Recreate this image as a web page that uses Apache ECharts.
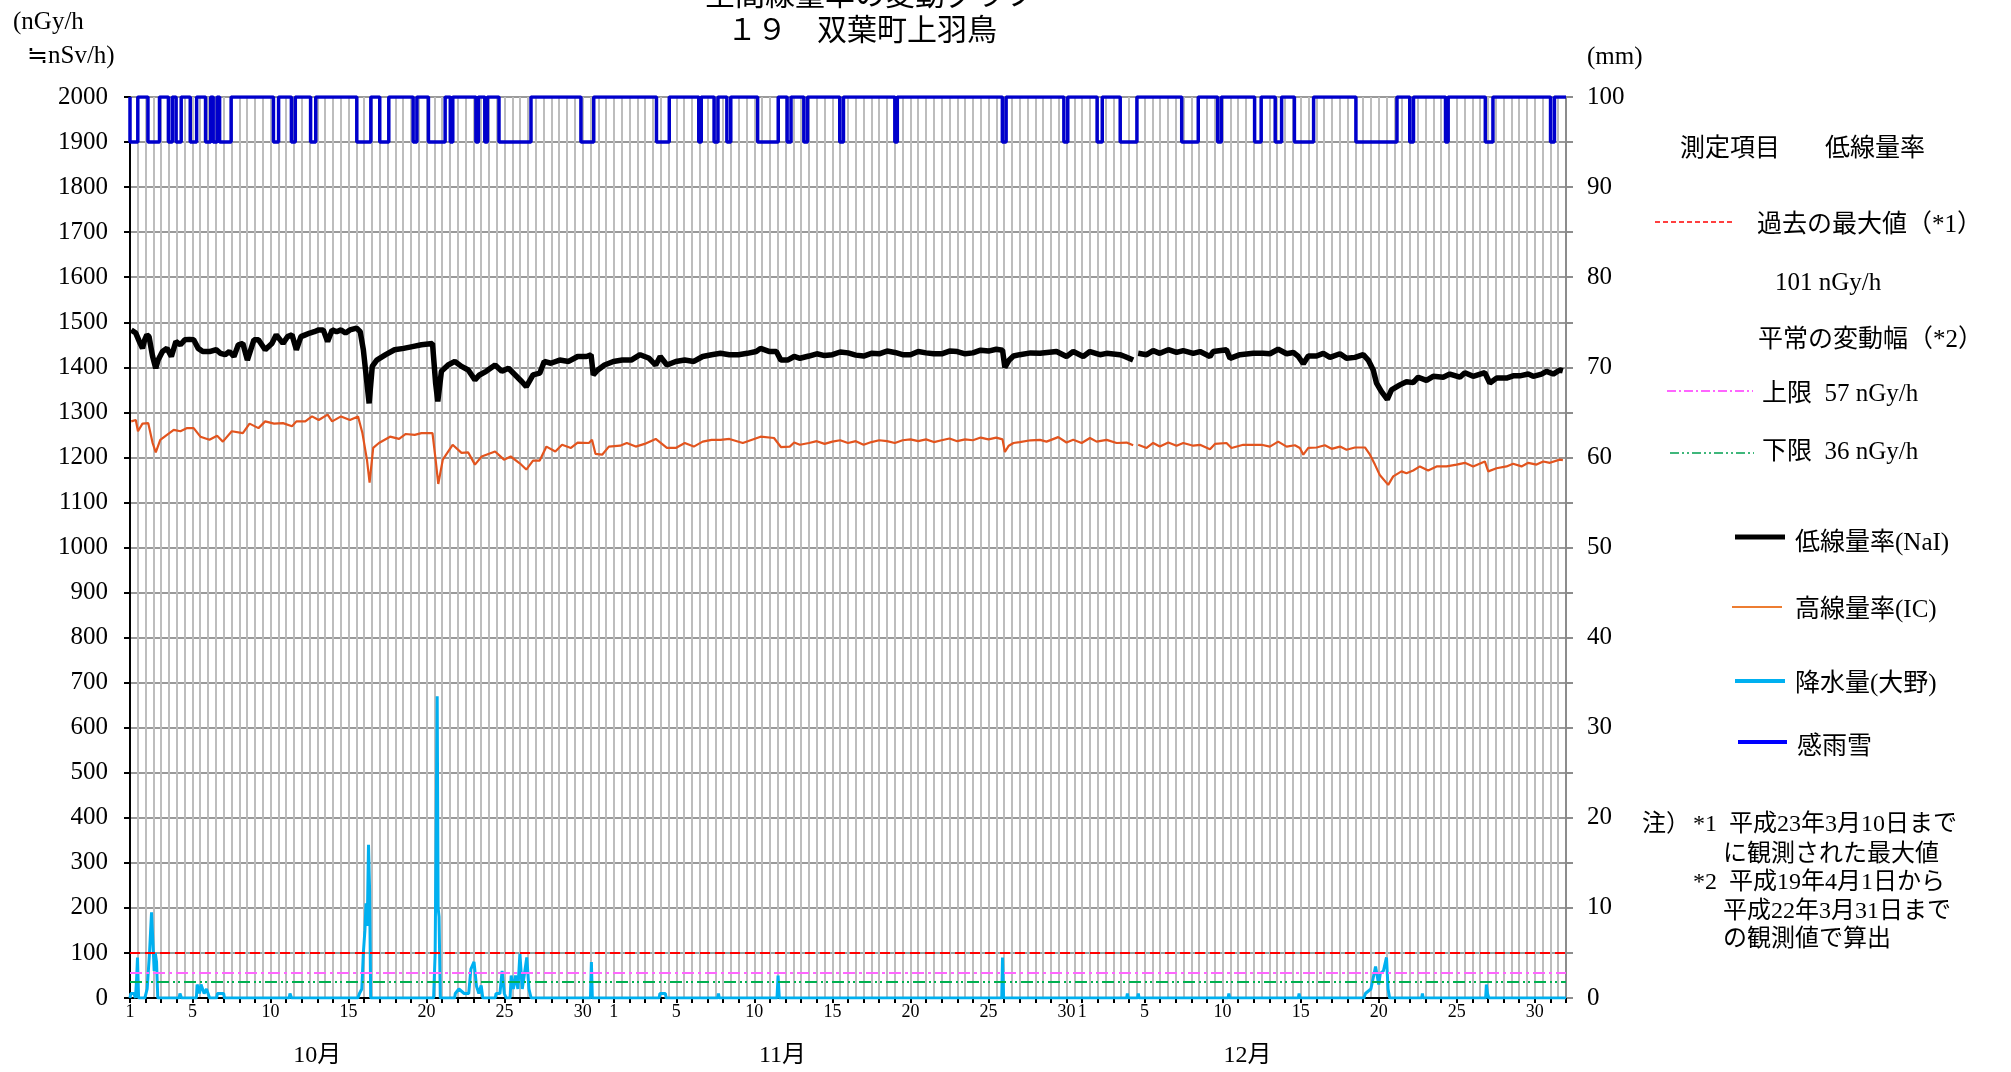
<!DOCTYPE html>
<html>
<head>
<meta charset="utf-8">
<script src="https://cdn.jsdelivr.net/npm/echarts@6/dist/echarts.min.js"></script>
<style>
  html, body { margin: 0; padding: 0; background: #fff; }
  #chart { width: 2011px; height: 1072px; }
</style>
</head>
<body>
<div id="chart"></div>
<script>
// x positions are in days counted from 1 Oct 00:00 (0 .. 92 = 1 Jan)
const monthStarts = [0, 31, 61];
const monthNames = ['10月', '11月', '12月'];
const monthLabelDays = [12.0, 41.8, 71.6];
const dayLabels = [1, 5, 10, 15, 20, 25, 30];

// reference levels (nGy/h)
const pastMax = 101;
const normalUpper = 57;
const normalLower = 36;

// low dose rate (NaI), nGy/h
const nai = [
  [0.08,1483],[0.37,1476],[0.65,1453],[0.80,1442],[0.94,1461],[1.08,1472],[1.22,1468],[1.45,1424],[1.65,1398],[1.80,1416],
  [2.08,1435],[2.37,1442],[2.65,1424],[2.94,1457],[3.23,1450],[3.51,1461],[3.80,1462],[4.08,1461],[4.37,1442],[4.66,1435],
  [5.09,1435],[5.52,1439],[5.80,1431],[6.09,1428],[6.37,1435],[6.66,1424],[6.94,1450],[7.23,1453],[7.52,1416],[7.94,1461],
  [8.23,1461],[8.66,1439],[9.09,1453],[9.37,1472],[9.80,1453],[10.09,1468],[10.38,1472],[10.66,1439],[10.95,1468],[11.23,1472],
  [11.52,1476],[11.81,1479],[12.09,1483],[12.38,1483],[12.66,1457],[12.95,1483],[13.24,1479],[13.52,1483],[13.81,1476],[14.09,1483],
  [14.52,1487],[14.75,1479],[14.95,1439],[15.18,1365],[15.32,1320],[15.52,1402],[15.81,1416],[16.38,1428],[16.95,1439],[17.53,1442],
  [18.09,1446],[18.67,1450],[19.38,1453],[19.58,1365],[19.72,1324],[19.95,1391],[20.38,1405],[20.81,1413],[21.24,1402],[21.67,1394],
  [22.10,1372],[22.39,1383],[22.82,1391],[23.39,1405],[23.82,1391],[24.25,1398],[24.68,1383],[25.11,1368],[25.39,1357],[25.82,1383],
  [26.25,1387],[26.54,1413],[26.96,1409],[27.53,1416],[28.10,1413],[28.68,1424],[29.25,1424],[29.54,1428],[29.68,1383],[29.97,1394],
  [30.40,1405],[30.97,1413],[31.54,1416],[32.11,1416],[32.68,1428],[33.26,1420],[33.68,1405],[33.97,1424],[34.40,1405],[34.97,1413],
  [35.54,1416],[36.12,1413],[36.69,1424],[37.26,1428],[37.83,1431],[38.40,1428],[38.98,1428],[39.55,1431],[40.12,1435],[40.40,1442],
  [40.98,1435],[41.41,1435],[41.70,1416],[42.13,1416],[42.55,1424],[42.92,1420],[43.50,1425],[44.00,1430],[44.50,1426],[45.00,1428],
  [45.50,1434],[46.00,1432],[46.50,1427],[47.00,1425],[47.50,1431],[48.00,1430],[48.50,1436],[49.00,1433],[49.50,1428],[50.00,1428],
  [50.50,1435],[51.00,1432],[51.50,1430],[52.00,1430],[52.50,1436],[53.00,1435],[53.50,1430],[54.00,1432],[54.50,1438],[55.00,1436],
  [55.50,1440],[55.90,1438],[56.05,1400],[56.30,1415],[56.60,1425],[57.00,1428],[57.70,1432],[58.30,1431],[59.36,1435],[60.00,1424],
  [60.43,1435],[61.07,1424],[61.50,1435],[62.14,1428],[62.57,1431],[63.42,1428],[63.74,1424],[64.27,1416],[64.40,'-'],[64.59,1431],
  [65.13,1428],[65.55,1437],[65.98,1431],[66.52,1439],[67.05,1433],[67.48,1437],[68.12,1431],[68.55,1435],[69.19,1424],[69.40,1435],
  [70.25,1439],[70.47,1420],[71.11,1428],[71.96,1431],[72.60,1431],[73.03,1430],[73.56,1440],[74.10,1430],[74.53,1433],[74.85,1424],
  [75.17,1408],[75.49,1425],[76.02,1425],[76.45,1431],[76.88,1422],[77.52,1430],[77.94,1420],[78.48,1422],[79.01,1428],[79.33,1416],
  [79.65,1394],[79.86,1365],[80.18,1346],[80.55,1329],[80.82,1350],[81.36,1361],[81.78,1368],[82.21,1366],[82.53,1378],[83.06,1371],
  [83.49,1380],[84.13,1378],[84.56,1385],[85.20,1378],[85.52,1388],[86.05,1380],[86.80,1388],[87.12,1365],[87.55,1376],[88.19,1376],
  [88.61,1381],[89.04,1381],[89.58,1385],[89.90,1380],[90.43,1385],[90.75,1391],[91.18,1385],[91.60,1394],[91.80,1392]
];

// high dose rate (IC), nGy/h
const ic = [
  [0.08,1280],[0.37,1283],[0.51,1258],[0.80,1275],[1.17,1276],[1.45,1232],[1.65,1211],[1.94,1239],[2.37,1250],[2.80,1261],
  [3.23,1258],[3.66,1265],[4.08,1265],[4.51,1246],[5.09,1239],[5.58,1248],[5.95,1235],[6.52,1258],[7.23,1254],[7.66,1275],
  [8.23,1265],[8.66,1280],[9.23,1275],[9.80,1276],[10.38,1269],[10.66,1280],[11.23,1280],[11.66,1291],[12.09,1283],[12.66,1295],
  [12.95,1280],[13.52,1291],[14.09,1283],[14.61,1291],[14.89,1254],[15.18,1195],[15.35,1144],[15.58,1221],[15.95,1232],[16.66,1246],
  [17.24,1241],[17.67,1252],[18.24,1250],[18.67,1254],[19.38,1254],[19.58,1195],[19.75,1141],[20.04,1195],[20.67,1228],[21.24,1210],
  [21.67,1211],[22.10,1184],[22.53,1202],[23.39,1213],[23.96,1195],[24.39,1202],[24.97,1187],[25.39,1173],[25.82,1193],[26.25,1193],
  [26.68,1224],[27.25,1213],[27.68,1228],[28.25,1221],[28.68,1233],[29.40,1232],[29.60,1239],[29.82,1208],[30.25,1206],[30.68,1224],
  [31.40,1226],[31.83,1232],[32.40,1224],[32.97,1230],[33.68,1241],[34.40,1221],[34.97,1221],[35.54,1232],[36.12,1224],[36.69,1235],
  [37.26,1239],[37.83,1239],[38.40,1241],[39.26,1232],[40.40,1246],[41.26,1243],[41.70,1223],[42.27,1224],[42.55,1233],[42.92,1228],
  [43.50,1232],[44.00,1236],[44.50,1230],[45.00,1235],[45.50,1238],[46.00,1232],[46.50,1236],[47.00,1228],[47.50,1234],[48.00,1238],
  [48.50,1236],[49.00,1232],[49.50,1238],[50.00,1240],[50.50,1236],[51.00,1240],[51.50,1234],[52.00,1238],[52.50,1242],[53.00,1236],
  [53.50,1240],[54.00,1238],[54.50,1244],[55.00,1240],[55.50,1244],[55.90,1240],[56.05,1212],[56.30,1226],[56.60,1232],[57.00,1234],
  [57.70,1238],[58.30,1239],[58.72,1235],[59.47,1245],[60.00,1233],[60.43,1239],[60.97,1232],[61.50,1243],[61.93,1235],[62.57,1239],
  [63.21,1232],[63.85,1233],[64.27,1227],[64.40,'-'],[64.59,1228],[65.13,1221],[65.55,1232],[65.98,1224],[66.52,1233],[67.05,1226],
  [67.48,1232],[68.12,1226],[68.55,1228],[69.19,1218],[69.51,1230],[70.25,1232],[70.57,1221],[71.32,1228],[71.96,1228],[72.49,1228],
  [73.03,1224],[73.56,1235],[74.10,1224],[74.63,1227],[74.95,1221],[75.17,1206],[75.49,1221],[76.02,1222],[76.55,1227],[76.98,1219],
  [77.52,1224],[77.94,1217],[78.48,1222],[79.12,1222],[79.44,1206],[79.76,1184],[80.07,1161],[80.61,1139],[80.93,1158],[81.46,1169],
  [81.78,1165],[82.21,1171],[82.64,1180],[83.17,1171],[83.71,1180],[84.35,1180],[84.99,1184],[85.52,1188],[86.05,1180],[86.80,1191],
  [87.02,1169],[87.55,1176],[88.19,1180],[88.61,1186],[89.15,1180],[89.58,1188],[90.11,1184],[90.54,1191],[90.97,1188],[91.60,1195],[91.80,1194]
];

// precipitation (Ono), mm
const rain = [
  [0,0],[0.05,0.5],[0.25,0.5],[0.35,0],[0.42,2],[0.48,4.5],[0.55,0],
  [0.95,0],[1.1,1],[1.25,5],[1.38,9.5],[1.47,9.5],[1.55,3],[1.62,5],[1.7,4],[1.78,0],
  [3.15,0],[3.2,0.5],[3.3,0],
  [4.25,0],[4.3,1.5],[4.4,1.5],[4.45,0.5],[4.55,1.5],[4.65,1.5],[4.75,0.5],[4.9,1],[5.0,0.5],[5.1,0],
  [5.55,0],[5.6,0.5],[6.0,0.5],[6.05,0],
  [10.2,0],[10.25,0.5],[10.35,0],
  [14.6,0],[14.7,0.5],[14.85,1],[14.95,5],[15.05,7.5],[15.12,10.5],[15.2,8],[15.28,17],[15.35,12],[15.42,0],
  [19.45,0],[19.55,5],[19.62,20],[19.68,33.5],[19.74,10],[19.8,9],[19.88,0],
  [20.8,0],[20.84,0.5],[21.07,1],[21.41,0.5],[21.7,0.5],[21.84,3.2],[22.04,4],[22.2,1.3],[22.35,0.5],[22.5,1.4],[22.6,0],
  [23.4,0],[23.45,0.5],[23.7,0.5],[23.84,3],[23.98,0.5],[24.1,0],
  [24.35,0],[24.42,2.5],[24.56,1],[24.7,2.5],[24.85,1],[24.98,4.9],[25.13,1],[25.42,4.5],[25.56,1],[25.7,0],
  [29.5,0],[29.56,4],[29.62,0],
  [33.9,0],[33.95,0.5],[34.3,0.5],[34.35,0],
  [37.65,0],[37.7,0.5],[37.75,0],
  [41.45,0],[41.52,2.5],[41.6,0],
  [55.85,0],[55.9,4.5],[55.97,0],
  [63.85,0],[63.9,0.5],[63.95,0],[64.55,0],[64.6,0.5],[64.65,0],
  [70.35,0],[70.4,0.5],[70.45,0],
  [74.85,0],[74.9,0.5],[74.95,0],
  [79.05,0],[79.15,0.5],[79.5,1],[79.8,3.5],[80.0,1.5],[80.1,2.7],[80.3,3],[80.5,4.5],[80.6,1],[80.7,0],
  [82.75,0],[82.8,0.5],[82.85,0],
  [86.85,0],[86.9,1.5],[86.97,0.5],[87.05,0],
  [92,0]
];

// rain/snow sensor "on" periods [start day, end day]
const rainSnowOn = [
  [0.0,0.5],[1.15,1.89],[2.46,2.71],[2.95,3.28],[3.86,4.27],[4.84,5.17],[5.33,5.58],[5.74,6.48],
  [9.19,9.52],[10.34,10.59],[11.57,11.9],[14.53,15.43],[16.0,16.58],[18.14,18.38],[19.12,20.19],
  [20.52,20.68],[22.16,22.32],[22.73,22.9],[23.64,25.69],[28.89,29.71],
  [33.73,34.55],[36.44,36.6],[37.42,37.67],[38.24,38.49],[40.21,41.53],[42.1,42.35],[43.17,43.41],
  [45.47,45.71],[49.0,49.16],[55.89,56.13],[59.83,60.08],[61.96,62.29],[63.44,64.51],[67.38,68.44],
  [69.68,69.92],[72.05,72.47],[73.37,73.78],[74.6,75.83],[78.54,81.17],[81.99,82.23],[84.28,84.45],
  [86.83,87.32],[91.01,91.26]
];

const FONT = "'Liberation Serif', 'Noto Sans CJK JP', serif";
const CJK = "'Noto Sans CJK JP', sans-serif";

// build label lookup for the day axis
const labelAt = {};
monthStarts.forEach(function (s) {
  dayLabels.forEach(function (d) { labelAt[s + d - 1] = String(d); });
});

// step line of the rain/snow sensor, 100 mm = off, 95 mm = on
const rainSnowLine = [[0, 100]];
rainSnowOn.forEach(function (p) {
  rainSnowLine.push([p[0], 100], [p[0], 95], [p[1], 95], [p[1], 100]);
});
rainSnowLine.push([92, 100]);

const chart = echarts.init(document.getElementById('chart'));

function txt(text, x, y, size, opts) {
  opts = opts || {};
  return {
    type: 'text', silent: true, z: 100,
    style: {
      text: text, x: x, y: y,
      fontSize: size, fontFamily: opts.family || FONT,
      fill: '#000',
      align: opts.align || 'left', textAlign: opts.align || 'left',
      verticalAlign: 'middle', textVerticalAlign: 'middle'
    }
  };
}
function seg(x1, x2, y, color, width, dash) {
  return {
    type: 'line', silent: true, z: 100,
    shape: { x1: x1, y1: y, x2: x2, y2: y },
    style: { stroke: color, lineWidth: width, lineDash: dash || null }
  };
}

const graphics = [
  txt('空間線量率の変動グラフ', 870, -6, 30, { align: 'center', family: CJK }),
  txt('１９　双葉町上羽鳥', 727, 29, 30, { family: CJK }),
  txt('(nGy/h', 13, 22, 25),
  txt('≒nSv/h)', 27, 56, 25),
  txt('(mm)', 1587, 57, 25),

  txt('測定項目', 1680, 149, 25),
  txt('低線量率', 1825, 149, 25),
  seg(1655, 1735, 222, '#ff0000', 1.5, [5, 3]),
  txt('過去の最大値（*1）', 1757, 225, 25),
  txt('101 nGy/h', 1775, 283, 25),
  txt('平常の変動幅（*2）', 1758, 340, 25),
  seg(1667, 1753, 391, '#ff33ff', 1.5, [9, 3, 2, 3]),
  txt('上限  57 nGy/h', 1762, 394, 25),
  seg(1670, 1754, 453, '#00a050', 1.5, [9, 3, 2, 3, 2, 3]),
  txt('下限  36 nGy/h', 1762, 452, 25),

  seg(1735, 1785, 537, '#000000', 5),
  txt('低線量率(NaI)', 1795, 543, 25),
  seg(1732, 1782, 607, '#ed7d31', 2),
  txt('高線量率(IC)', 1795, 610, 25),
  seg(1735, 1785, 681, '#00b0f0', 4),
  txt('降水量(大野)', 1795, 684, 25),
  seg(1738, 1787, 742, '#0000ff', 4),
  txt('感雨雪', 1797, 747, 25),

  txt('注）', 1642, 825, 24),
  txt('*1  平成23年3月10日まで', 1693, 825, 24),
  txt('に観測された最大値', 1723, 855, 24),
  txt('*2  平成19年4月1日から', 1693, 883, 24),
  txt('平成22年3月31日まで', 1723, 912, 24),
  txt('の観測値で算出', 1723, 940, 24)
];

const refLine = function (v, color, dash) {
  return { yAxis: v, lineStyle: { color: color, width: 2, type: dash } };
};

chart.setOption({
  animation: false,
  backgroundColor: '#fff',
  textStyle: { fontFamily: FONT },
  grid: { left: 130, top: 97, width: 1436, height: 901, outerBoundsMode: 'none', containLabel: false },
  xAxis: {
    type: 'value', min: 0, max: 92, interval: 1,
    axisLine: { show: true, onZero: false, lineStyle: { color: '#000', width: 2 } },
    axisTick: { show: true, length: 5, lineStyle: { color: '#000', width: 2 } },
    axisLabel: {
      margin: 5, fontSize: 18, color: '#000', fontFamily: FONT,
      showMinLabel: true, showMaxLabel: true, hideOverlap: false,
      formatter: function (v) { return labelAt[v] || ''; }
    },
    splitLine: { show: true, lineStyle: { color: '#bdbdbd', width: 2 } },
    minorTick: { show: false, splitNumber: 2 },
    minorSplitLine: { show: true, lineStyle: { color: '#bdbdbd', width: 2 } }
  },
  yAxis: [
    {
      type: 'value', min: 0, max: 2000, interval: 100, position: 'left',
      axisLine: { show: true, lineStyle: { color: '#000', width: 2 } },
      axisTick: { show: true, length: 6, lineStyle: { color: '#000', width: 2 } },
      axisLabel: {
        margin: 22, fontSize: 25, color: '#000', fontFamily: FONT,
        formatter: function (v) { return String(v); }
      },
      splitLine: { show: true, lineStyle: { color: '#999', width: 2 } }
    },
    {
      type: 'value', min: 0, max: 100, interval: 5, position: 'right',
      axisLine: { show: true, lineStyle: { color: '#8c8c8c', width: 2 } },
      axisTick: { show: true, length: 7, lineStyle: { color: '#8c8c8c', width: 2 } },
      axisLabel: {
        margin: 21, fontSize: 25, color: '#000', fontFamily: FONT,
        formatter: function (v) { return v % 10 === 0 ? String(v) : ''; }
      },
      splitLine: { show: false }
    }
  ],
  series: [
    {
      name: '感雨雪', type: 'line', yAxisIndex: 1, data: rainSnowLine,
      symbol: 'none', lineStyle: { color: '#0000cc', width: 3.5 }, z: 3
    },
    {
      name: '降水量(大野)', type: 'line', yAxisIndex: 1, data: rain,
      symbol: 'none', lineStyle: { color: '#00b0f0', width: 3 }, z: 4
    },
    {
      name: '基準', type: 'line', yAxisIndex: 0, data: [],
      symbol: 'none', z: 5,
      markLine: {
        silent: true, symbol: 'none', label: { show: false }, animation: false,
        data: [
          refLine(pastMax, '#ff0000', [10, 5]),
          refLine(normalUpper, '#ff66ff', [12, 4, 3, 4]),
          refLine(normalLower, '#00b050', [12, 4, 2, 3, 2, 4])
        ]
      }
    },
    {
      name: '高線量率(IC)', type: 'line', yAxisIndex: 0, data: ic,
      symbol: 'none', lineStyle: { color: '#e2541e', width: 2.2 }, z: 6
    },
    {
      name: '低線量率(NaI)', type: 'line', yAxisIndex: 0, data: nai,
      symbol: 'none', lineStyle: { color: '#000', width: 5.5 }, z: 7
    }
  ],
  graphic: graphics
});

// month names under the day axis
const monthGraphics = monthLabelDays.map(function (d, i) {
  const px = chart.convertToPixel({ xAxisIndex: 0 }, d);
  return txt(monthNames[i], px, 1056, 24, { align: 'center' });
});
chart.setOption({ graphic: graphics.concat(monthGraphics) });
</script>
</body>
</html>
